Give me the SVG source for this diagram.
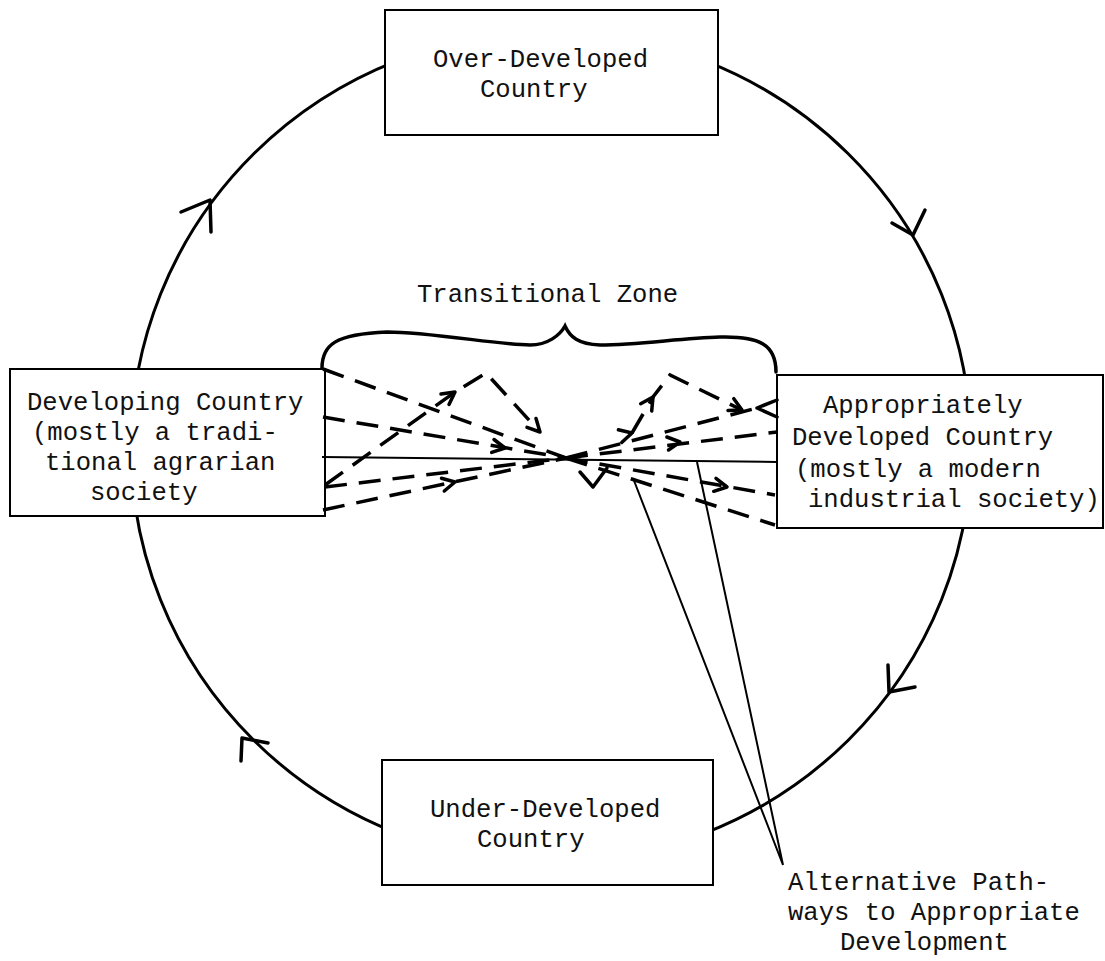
<svg xmlns="http://www.w3.org/2000/svg" width="1105" height="961" viewBox="0 0 1105 961">
<style>
  .box { fill: #fff; stroke: #000; stroke-width: 2; }
  .t { font-family: "Liberation Mono", "Courier New", monospace; font-size: 25.6px; fill: #111; }
  .cyc { fill: none; stroke: #000; stroke-width: 3; }
  .ah { fill: none; stroke: #000; stroke-width: 3.5; stroke-linecap: round; stroke-linejoin: round; }
  .dash { fill: none; stroke: #000; stroke-width: 3.5; stroke-dasharray: 22 12; }
  .thin { fill: none; stroke: #000; stroke-width: 2; }
  .brace { fill: none; stroke: #000; stroke-width: 3.5; stroke-linecap: round; }
</style>
<rect width="1105" height="961" fill="#fff"/>
<g id="cycle">
  <ellipse class="cyc" cx="551" cy="447" rx="420" ry="415"/>
  <polyline class="ah" points="181,212 210,200 211,232"/>
  <polyline class="ah" points="892,223 913,235 925,210"/>
  <polyline class="ah" points="888,665 889,692 915,687"/>
  <polyline class="ah" points="268,743 242,738 241,761"/>
</g>
<g id="over-developed">
  <rect class="box" x="385" y="10" width="333" height="125"/>
  <text class="t" x="433" y="67">Over-Developed</text>
  <text class="t" x="480" y="97">Country</text>
</g>
<g id="developing">
  <rect class="box" x="10" y="369" width="315" height="147"/>
  <text class="t" x="27" y="410">Developing Country</text>
  <text class="t" x="32" y="440">(mostly a tradi-</text>
  <text class="t" x="45" y="470">tional agrarian</text>
  <text class="t" x="90" y="500">society</text>
</g>
<g id="appropriately-developed">
  <rect class="box" x="777" y="375" width="326" height="153"/>
  <text class="t" x="823" y="413">Appropriately</text>
  <text class="t" x="792" y="445">Developed Country</text>
  <text class="t" x="795" y="477">(mostly a modern</text>
  <text class="t" x="808" y="507">industrial society)</text>
</g>
<g id="under-developed">
  <rect class="box" x="382" y="760" width="331" height="125"/>
  <text class="t" x="430" y="817">Under-Developed</text>
  <text class="t" x="477" y="847">Country</text>
</g>
<g id="transitional-zone">
  <text class="t" x="417" y="302">Transitional Zone</text>
  <path class="brace" d="M322,368 C322,345 335,334 387,332 C430,332 500,345 530,345 C548,345 560,335 565,326 C570,337 578,344 600,345 C640,345 680,338 720,337 C760,336 776,345 776,372"/>
</g>
<g id="alternative-pathways">
  <text class="t" x="788" y="890">Alternative Path-</text>
  <text class="t" x="788" y="920">ways to Appropriate</text>
  <text class="t" x="840" y="950">Development</text>
</g>
<g id="connectors">
  <path class="thin" d="M322,457 L777,462"/>
  <path class="dash" d="M323,369 L566,458"/>
  <path class="dash" d="M323,417 L566,458"/>
  <polyline class="ah" points="494,439.5 505,448 491.7,452.4"/>
  <path class="dash" d="M325,485 L455,392 L486,373 L540,432"/>
  <polyline class="ah" points="441,394 455,392 449,404.5"/>
  <polyline class="ah" points="536,418.5 540,432 527,427.4"/>
  <path class="dash" d="M325,487 L566,458"/>
  <path class="dash" d="M323,510 L566,458"/>
  <polyline class="ah" points="441.5,478.2 455,482 444.3,491"/>
  <path class="dash" d="M566,458 L775,495"/>
  <polyline class="ah" points="716,478.4 727,487 713.7,491.3"/>
  <path class="dash" d="M566,458 L775,525"/>
  <path class="dash" d="M566,458 L777,432"/>
  <polyline class="ah" points="666.9,437 680,442 668.5,450"/>
  <path class="dash" d="M566,458 L757,408"/>
  <polyline class="ah" points="618.4,429.8 632,433 621.7,442.5"/>
  <path class="dash" d="M632,433 L653,397 L670,375 L742,410"/>
  <polyline class="ah" points="640.7,403.7 653,397 651.7,411"/>
  <polyline class="ah" points="733.8,398.7 742,410 728,410.5"/>
  <polyline class="ah" points="777,400 757,408 777,417"/>
  <polyline class="ah" points="580,472 593,487 607,468"/>
  <path class="thin" d="M633,478 L783,865 L697,462"/>
</g>
</svg>
